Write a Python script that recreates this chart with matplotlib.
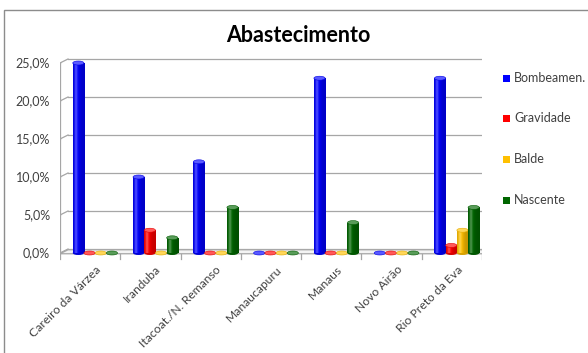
import matplotlib.pyplot as plt
import matplotlib.patches as mpatches
import matplotlib.colors as mcolors
import numpy as np

municipios = ["Careiro da Várzea", "Iranduba", "Itacoat./N. Remanso", "Manaucapuru",
              "Manaus", "Novo Airão", "Rio Preto da Eva"]
series = ["Bombeamen.", "Gravidade", "Balde", "Nascente"]
bombeamento = [25.0, 10.0, 12.0, 0.0, 23.0, 0.0, 23.0]
gravidade = [0.0, 3.0, 0.0, 0.0, 0.0, 0.0, 1.0]
balde = [0.0, 0.0, 0.0, 0.0, 0.0, 0.0, 3.0]
nascente = [0.0, 2.0, 6.0, 0.0, 4.0, 0.0, 6.0]
yticks = [0, 5, 10, 15, 20, 25]

cores = ["#0000ff", "#ff0000", "#ffc000", "#006600"]
valores = [bombeamento, gravidade, balde, nascente]

plt.rcParams["font.family"] = ["Lato", "DejaVu Sans"]
W, H = 588, 353
fig = plt.figure(figsize=(W / 100, H / 100), dpi=100)

# pixel layout: x from 60 to 482, y = 253 - 7.6*v
px_cat = 422 / 7
px_pct = 7.6
y0, y1 = -1.0, 26.5
top_px = 253 - y1 * px_pct
bot_px = 253 - y0 * px_pct
ax = fig.add_axes([60 / W, 1 - bot_px / H, 422 / W, (bot_px - top_px) / H])
ax.set_axis_off()

dx = 8 / px_cat   # depth offset of the back wall
dy = 4 / px_pct
gcol = "#a6a6a6"

# floor
floor = mpatches.Polygon([(-0.5, -0.1), (6.5, -0.1), (6.5 + dx * 1.2, -0.1 + dy),
                          (-0.5 + dx, -0.1 + dy)], closed=True,
                         facecolor="#f4f4f4", edgecolor=gcol, lw=0.9, zorder=1)
ax.add_patch(floor)

# back wall gridlines and left axis
for v in yticks:
    ax.plot([-0.5 + dx, 6.5 + dx * 1.2], [v + dy, v + dy], color=gcol, lw=0.9, zorder=0.5)
    ax.plot([-0.5, -0.5 + dx], [v, v + dy], color=gcol, lw=0.9, zorder=0.5)
    ax.plot([-0.5 - 4 / px_cat, -0.5], [v, v], color=gcol, lw=0.9, zorder=0.5)
    ax.text(-0.5 - 10 / px_cat, v, f"{v:.1f}%".replace(".", ","), ha="right", va="center",
            fontsize=9, color="#404040")
ax.plot([-0.5, -0.5], [0, 25], color=gcol, lw=0.9, zorder=0.5)

# category ticks
for b in np.arange(-0.5, 7, 1):
    ax.plot([b, b], [-0.1, -0.1 - 5 / px_pct], color=gcol, lw=0.9, zorder=1)

for i, nome in enumerate(municipios):
    ax.text(i + 0.08, -0.1 - 10 / px_pct, nome, rotation=45, rotation_mode="anchor",
            ha="right", va="top", fontsize=8.7, color="#404040")

# cylinders
w = 11.2 / px_cat
e = 4.0 / px_pct
shift = 5 / px_cat
grad_x = np.linspace(0, 1, 64)
shade = 0.78 + 0.22 * np.exp(-((grad_x - 0.3) / 0.3) ** 2)
glow = 0.3 * np.exp(-((grad_x - 0.25) / 0.12) ** 2)

for j, (vals, cor) in enumerate(zip(valores, cores)):
    rgb = np.array(mcolors.to_rgb(cor))
    light = rgb + (1 - rgb) * 0.35
    img = np.clip(rgb[None, :] * shade[:, None] + (1 - rgb[None, :]) * glow[:, None], 0, 1)
    img = img[None, :, :]
    for i, h in enumerate(vals):
        xc = i - 1.5 * w + j * w + shift
        z = 3 + i * 0.1 + j * 0.01
        if h > 0:
            body = mpatches.Rectangle((xc - w / 2, 0), w, h, facecolor="none", edgecolor="none")
            ax.add_patch(body)
            im = ax.imshow(img, extent=[xc - w / 2, xc + w / 2, 0, h], aspect="auto",
                           zorder=z, interpolation="bilinear")
            im.set_clip_path(body)
            ax.add_patch(mpatches.Ellipse((xc, 0), w, e, facecolor=rgb * 0.85, edgecolor="none",
                                          zorder=z - 0.001))
        ax.add_patch(mpatches.Ellipse((xc, h), w, e, facecolor=light, edgecolor=rgb * 0.9,
                                      lw=0.4, zorder=z + 0.002))

ax.set_xlim(-0.5, 6.5)
ax.set_ylim(y0, y1)

# title
fig.text(298 / W, 1 - 35 / H, "Abastecimento", ha="center", va="center",
         fontsize=15.5, fontweight="bold", color="black")

# legend
for k, (nome, cor) in enumerate(zip(series, cores)):
    yk = [78, 118, 159, 200][k]
    fig.patches.append(mpatches.Rectangle((503 / W, 1 - (yk + 3.5) / H), 7 / W, 7 / H,
                                          transform=fig.transFigure, facecolor=cor,
                                          edgecolor="none"))
    fig.text(514 / W, 1 - yk / H, nome, ha="left", va="center", fontsize=9, color="#404040")

# outer frame
fig.patches.append(mpatches.Rectangle((4 / W, -0.1), 1.2, 1 - 10 / H + 0.1,
                                      transform=fig.transFigure, facecolor="none",
                                      edgecolor="#8c8c8c", lw=1.0))

fig.savefig("out.png", dpi=100)
